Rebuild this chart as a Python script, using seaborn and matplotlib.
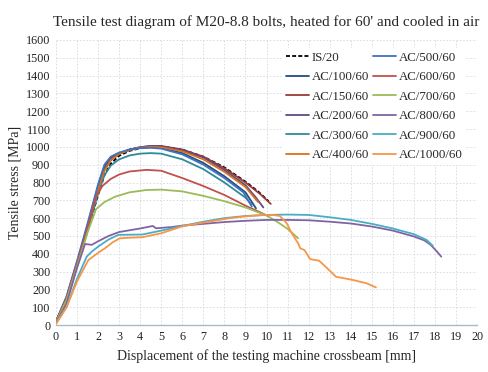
import seaborn as sns
import pandas as pd
import matplotlib.pyplot as plt

# curve data (displacement mm, stress MPa)
is20_x = [0, 0.5, 1, 1.5, 2, 2.3, 2.6, 3, 3.5, 4, 4.5, 5, 6, 7, 8, 9, 9.6, 10.1]
is20_y = [15, 140, 330, 530, 730, 840, 905, 950, 978, 992, 1000, 1002, 985, 945, 885, 805, 750, 695]

ac100_x = [0, 0.5, 1, 1.5, 2, 2.3, 2.6, 3, 3.5, 4, 4.5, 5, 6, 7, 8, 9, 9.5]
ac100_y = [20, 155, 350, 560, 780, 890, 940, 965, 985, 995, 998, 995, 965, 910, 835, 745, 655]

ac150_x = [0, 0.5, 1, 1.5, 2, 2.3, 2.6, 3, 3.5, 4, 4.5, 5, 6, 7, 8, 9, 9.7, 10.2]
ac150_y = [20, 150, 345, 550, 760, 870, 925, 960, 985, 998, 1005, 1005, 985, 945, 880, 800, 735, 680]

ac200_x = [0, 0.5, 1, 1.5, 2, 2.3, 2.6, 3, 3.5, 4, 4.5, 5, 6, 7, 8, 9, 9.5, 9.85]
ac200_y = [20, 150, 345, 550, 765, 875, 930, 962, 985, 998, 1005, 1003, 982, 940, 870, 785, 715, 660]

ac300_x = [0, 0.5, 1, 1.5, 2, 2.3, 2.6, 3, 3.5, 4, 4.5, 5, 6, 7, 8, 9, 9.3]
ac300_y = [20, 140, 330, 530, 740, 840, 895, 930, 952, 962, 965, 962, 930, 875, 800, 715, 675]

ac400_x = [0, 0.5, 1, 1.5, 2, 2.3, 2.6, 3, 3.5, 4, 4.5, 5, 6, 7, 8, 9, 9.6]
ac400_y = [20, 145, 340, 545, 760, 865, 925, 960, 982, 995, 1000, 998, 975, 930, 860, 775, 690]

ac500_x = [0, 0.5, 1, 1.5, 2, 2.3, 2.6, 3, 3.5, 4, 4.5, 5, 6, 7, 8, 8.9, 9.3]
ac500_y = [20, 160, 360, 570, 790, 900, 945, 968, 985, 993, 995, 990, 958, 900, 825, 745, 665]

ac600_x = [0, 0.5, 1, 1.5, 1.9, 2.2, 2.6, 3, 3.5, 4.3, 5, 6, 7, 8, 9, 9.6, 10.1]
ac600_y = [20, 150, 345, 545, 720, 780, 820, 845, 862, 871, 866, 825, 780, 730, 670, 638, 610]

ac700_x = [0, 0.5, 1, 1.5, 1.9, 2.3, 2.8, 3.5, 4.3, 5, 6, 7, 8, 9, 10, 10.5, 11, 11.5]
ac700_y = [15, 140, 330, 520, 650, 690, 720, 745, 758, 760, 750, 725, 695, 660, 615, 580, 540, 487]

ac800_x = [0, 0.5, 1, 1.38, 1.7, 2, 2.5, 3, 3.5, 4, 4.6, 4.75, 5.5, 6, 7, 8, 9, 10, 11, 12, 13,
           14, 15, 16, 17, 17.5, 17.8, 18.1, 18.3]
ac800_y = [10, 120, 320, 455, 450, 470, 500, 522, 532, 542, 556, 543, 550, 558, 568, 578, 585, 590,
           590, 588, 580, 570, 553, 530, 497, 475, 450, 412, 384]

ac900_x = [0, 0.5, 1, 1.46, 1.7, 2, 2.5, 2.96, 3.5, 4.1, 5, 6, 7, 8, 9, 10, 11, 12, 13, 14, 15,
           16, 17, 17.6, 17.9]
ac900_y = [10, 100, 260, 384, 412, 440, 480, 506, 507, 508, 530, 556, 580, 600, 612, 618, 620, 618,
           605, 590, 568, 542, 510, 478, 445]

ac1000_x = [0, 0.5, 1, 1.54, 2, 2.33, 2.7, 3.04, 3.5, 4.1, 5, 6, 7, 8.27, 9, 9.85, 10.3, 10.64,
            10.96, 11.2, 11.5, 11.6, 11.8, 12.07, 12.5, 12.8, 13.3, 14.1, 14.76, 15.2]
ac1000_y = [5, 100, 245, 365, 405, 431, 465, 487, 490, 493, 515, 554, 575, 600, 610, 618, 618, 612,
            571, 515, 459, 431, 421, 370, 361, 328, 271, 253, 234, 211]

names = ["IS/20", "AC/100/60", "AC/150/60", "AC/200/60", "AC/300/60", "AC/400/60",
         "AC/500/60", "AC/600/60", "AC/700/60", "AC/800/60", "AC/900/60", "AC/1000/60"]
xs = [is20_x, ac100_x, ac150_x, ac200_x, ac300_x, ac400_x, ac500_x, ac600_x, ac700_x,
      ac800_x, ac900_x, ac1000_x]
ys = [is20_y, ac100_y, ac150_y, ac200_y, ac300_y, ac400_y, ac500_y, ac600_y, ac700_y,
      ac800_y, ac900_y, ac1000_y]
colors = ["#000000", "#254d80", "#983a36", "#624a80", "#2f8a9c", "#d9701c",
          "#3f72c0", "#c0504d", "#9bbb59", "#8064a2", "#4bacc6", "#f79646"]

sns.set_style("white")
plt.rcParams["font.family"] = ["Liberation Serif", "DejaVu Serif"]

fig, ax = plt.subplots(figsize=(4.89, 3.72), dpi=100)
fig.subplots_adjust(left=0.1145, right=0.9755, bottom=0.1263, top=0.8925)

for name, x, y, c in zip(names, xs, ys, colors):
    df = pd.DataFrame({"x": x, "y": y})
    sns.lineplot(data=df, x="x", y="y", ax=ax, color=c, lw=1.3, label=name,
                 sort=False, estimator=None,
                 linestyle=(0, (2.2, 1.2)) if name == "IS/20" else "-")

ax.set_xlim(0, 20)
ax.set_ylim(0, 1600)
ax.set_xticks(range(0, 21))
ax.set_yticks(range(0, 1601, 100))
ax.grid(True, color="#d5d9e0", linestyle=(0, (2, 2)), linewidth=0.6)
for s in ["top", "right", "left"]:
    ax.spines[s].set_visible(False)
ax.spines["bottom"].set_color("#a9bacb")
ax.spines["bottom"].set_linewidth(1.0)
ax.tick_params(axis="both", length=0, labelsize=8.7, colors="#222222", pad=4)

ax.set_title("Tensile test diagram of M20-8.8 bolts, heated for 60' and cooled in air",
             fontsize=11, pad=10)
ax.set_xlabel("Displacement of the testing machine crossbeam [mm]", fontsize=10, labelpad=5)
ax.set_ylabel("Tensile stress [MPa]", fontsize=10, labelpad=3)

leg = ax.legend(ncol=2, loc="upper right", bbox_to_anchor=(0.99, 0.995), fontsize=9.3,
                frameon=True, facecolor="white", edgecolor="none", framealpha=1,
                handlelength=1.8, handletextpad=0.2, columnspacing=0.3,
                labelspacing=0.58, borderpad=0.3)

plt.savefig("out.png", dpi=100)
